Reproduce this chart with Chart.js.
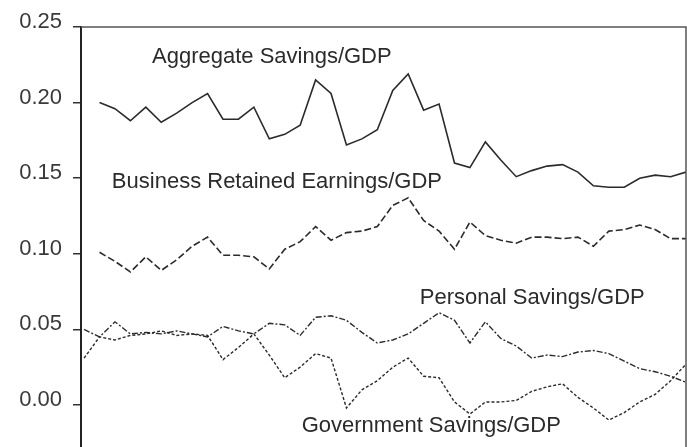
<!DOCTYPE html>
<html>
<head>
<meta charset="utf-8">
<script src="https://cdn.jsdelivr.net/npm/chart.js@4.4.1/dist/chart.umd.min.js"></script>
<style>
    body { margin: 0; background: #fff; }
    #wrap { width: 687px; height: 447px; position: relative; }
</style>
</head>
<body>
<div id="wrap"><canvas id="savingsChart"></canvas></div>
<script>
// Years (x axis is not shown in the picture)
const years = [1959, 1960, 1961, 1962, 1963, 1964, 1965, 1966, 1967, 1968,
               1969, 1970, 1971, 1972, 1973, 1974, 1975, 1976, 1977, 1978,
               1979, 1980, 1981, 1982, 1983, 1984, 1985, 1986, 1987, 1988,
               1989, 1990, 1991, 1992, 1993, 1994, 1995, 1996, 1997, 1998];

// Ratios to GDP
const aggregate = [null, 0.200, 0.196, 0.188, 0.197, 0.187, 0.193, 0.200, 0.206, 0.189,
                   0.189, 0.197, 0.176, 0.179, 0.185, 0.215, 0.206, 0.172, 0.176, 0.182,
                   0.208, 0.219, 0.195, 0.199, 0.160, 0.157, 0.174, 0.162, 0.151, 0.155,
                   0.158, 0.159, 0.154, 0.145, 0.144, 0.144, 0.150, 0.152, 0.151, 0.154];
const business = [null, 0.101, 0.095, 0.088, 0.098, 0.089, 0.096, 0.105, 0.111, 0.099,
                  0.099, 0.098, 0.090, 0.103, 0.108, 0.118, 0.109, 0.114, 0.115, 0.118,
                  0.132, 0.137, 0.122, 0.115, 0.103, 0.121, 0.112, 0.109, 0.107, 0.111,
                  0.111, 0.110, 0.111, 0.105, 0.115, 0.116, 0.119, 0.116, 0.110, 0.110];
const personal = [0.050, 0.045, 0.055, 0.047, 0.048, 0.047, 0.049, 0.047, 0.045, 0.052,
                  0.049, 0.047, 0.054, 0.053, 0.046, 0.058, 0.059, 0.056, 0.048, 0.041,
                  0.043, 0.047, 0.054, 0.061, 0.056, 0.041, 0.055, 0.044, 0.039, 0.031,
                  0.033, 0.032, 0.035, 0.036, 0.034, 0.029, 0.024, 0.022, 0.019, 0.015];
const government = [0.031, 0.045, 0.043, 0.046, 0.047, 0.049, 0.046, 0.047, 0.046, 0.030,
                    0.038, 0.047, 0.033, 0.018, 0.025, 0.034, 0.031, -0.002, 0.010, 0.016,
                    0.025, 0.031, 0.019, 0.018, 0.002, -0.006, 0.002, 0.002, 0.003, 0.009,
                    0.012, 0.014, 0.005, -0.002, -0.010, -0.005, 0.002, 0.007, 0.016, 0.027];

const yTicks = [0, 0.05, 0.10, 0.15, 0.20, 0.25];

// Series captions, placed in data coordinates (year, ratio)
const captions = [
    { text: 'Aggregate Savings/GDP', year: 1963.4, value: 0.2262 },
    { text: 'Business Retained Earnings/GDP', year: 1960.8, value: 0.1435 },
    { text: 'Personal Savings/GDP', year: 1980.75, value: 0.0668 },
    { text: 'Government Savings/GDP', year: 1973.1, value: -0.0179 }
];

const ink = '#2b2b2b';

function toPoints(values) {
    return years.map((yr, i) => ({ x: yr, y: values[i] }));
}

// top and right frame lines
const framePlugin = {
    id: 'frame',
    afterDraw(chart) {
        const a = chart.chartArea;
        const ctx = chart.ctx;
        ctx.save();
        ctx.strokeStyle = '#555';
        ctx.lineWidth = 1.5;
        ctx.beginPath();
        ctx.moveTo(a.left, a.top);
        ctx.lineTo(a.right, a.top);
        ctx.lineTo(a.right, a.bottom);
        ctx.stroke();
        ctx.restore();
    }
};

const captionPlugin = {
    id: 'captions',
    afterDraw(chart) {
        const ctx = chart.ctx;
        const xs = chart.scales.x;
        const ys = chart.scales.y;
        ctx.save();
        ctx.fillStyle = ink;
        ctx.font = '22px "Liberation Sans", Arial, sans-serif';
        ctx.textAlign = 'left';
        ctx.textBaseline = 'alphabetic';
        captions.forEach(c => {
            ctx.fillText(c.text, xs.getPixelForValue(c.year), ys.getPixelForValue(c.value));
        });
        ctx.restore();
    }
};

new Chart(document.getElementById('savingsChart'), {
    type: 'line',
    data: {
        datasets: [
            {
                label: 'Aggregate Savings/GDP',
                data: toPoints(aggregate),
                borderColor: ink,
                borderWidth: 1.6,
                pointRadius: 0,
                tension: 0
            },
            {
                label: 'Business Retained Earnings/GDP',
                data: toPoints(business),
                borderColor: ink,
                borderWidth: 1.6,
                borderDash: [7, 3],
                pointRadius: 0,
                tension: 0
            },
            {
                label: 'Personal Savings/GDP',
                data: toPoints(personal),
                borderColor: ink,
                borderWidth: 1.4,
                borderDash: [6, 2, 2, 2],
                pointRadius: 0,
                tension: 0
            },
            {
                label: 'Government Savings/GDP',
                data: toPoints(government),
                borderColor: ink,
                borderWidth: 1.4,
                borderDash: [3, 2],
                pointRadius: 0,
                tension: 0
            }
        ]
    },
    options: {
        responsive: true,
        maintainAspectRatio: false,
        animation: false,
        layout: {
            padding: { top: 27, right: 1, bottom: 0, left: 0 }
        },
        plugins: {
            legend: { display: false },
            title: { display: false },
            tooltip: { enabled: false }
        },
        scales: {
            x: {
                type: 'linear',
                display: false,
                min: 1958.8,
                max: 1998
            },
            y: {
                min: -0.0278,
                max: 0.25,
                afterBuildTicks: function(scale) {
                    scale.ticks = yTicks.map(v => ({ value: v }));
                },
                afterFit: function(scale) {
                    scale.width = 81;
                    // the axis runs off the bottom of the picture, no label room needed
                    scale.paddingTop = 0;
                    scale.paddingBottom = 0;
                },
                border: {
                    display: true,
                    color: '#222',
                    width: 2
                },
                grid: {
                    drawOnChartArea: false,
                    drawTicks: true,
                    tickLength: 8,
                    color: '#333',
                    lineWidth: 1.5
                },
                ticks: {
                    padding: 11,
                    labelOffset: -5,
                    color: '#3a3a3a',
                    font: { family: '"Liberation Sans", Arial, sans-serif', size: 22 },
                    callback: function(value) {
                        return value.toFixed(2);
                    }
                }
            }
        }
    },
    plugins: [framePlugin, captionPlugin]
});
</script>
</body>
</html>
